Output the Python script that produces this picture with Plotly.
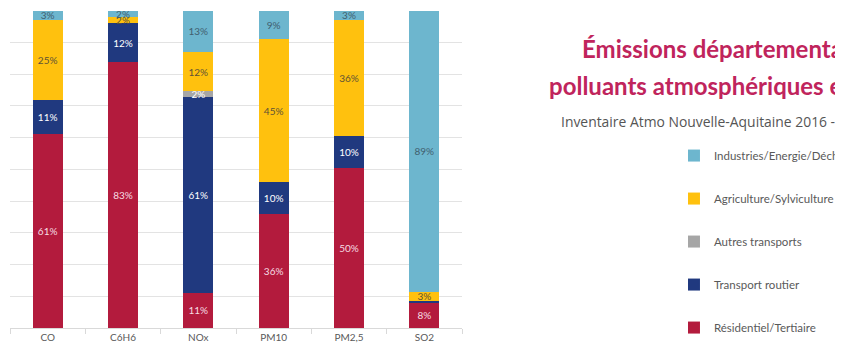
import plotly.graph_objects as go

categories = ["CO", "C6H6", "NOx", "PM10", "PM2,5", "SO2"]

# Shares (%) by sector
residentiel = [61, 83, 11, 36, 50, 8]
transport_routier = [11, 12, 61, 10, 10, 0.5]
autres_transports = [0, 0, 2, 0, 0, 0]
agriculture = [25, 2, 12, 45, 36, 3]
industries = [3, 2, 13, 9, 3, 89]

lbl_residentiel = ["61%", "83%", "11%", "36%", "50%", "8%"]
lbl_transport_routier = ["11%", "12%", "61%", "10%", "10%", ""]
lbl_autres_transports = ["", "", "2%", "", "", ""]
lbl_agriculture = ["25%", "2%", "12%", "45%", "36%", "3%"]
lbl_industries = ["3%", "2%", "13%", "9%", "3%", "89%"]

series = [
    ("Résidentiel/Tertiaire", residentiel, lbl_residentiel, "#B31B3D", "#F6DDE3", 5),
    ("Transport routier", transport_routier, lbl_transport_routier, "#20397F", "#FFFFFF", 4),
    ("Autres transports", autres_transports, lbl_autres_transports, "#A6A6A6", "#FFFFFF", 3),
    ("Agriculture/Sylviculture", agriculture, lbl_agriculture, "#FFC10E", "#5E5236", 2),
    ("Industries/Energie/Déchets", industries, lbl_industries, "#6DB6CE", "#41606E", 1),
]

fig = go.Figure()
for name, vals, lbls, col, tcol, rank in series:
    fig.add_trace(go.Bar(
        x=categories, y=vals, name=name, text=lbls,
        marker=dict(color=col, line=dict(width=0)),
        textposition="inside", insidetextanchor="middle", textangle=0,
        textfont=dict(color=tcol, size=10, family="Lato"),
        legendgroup=name, legendrank=rank,
    ))

fig.update_layout(
    width=843, height=352,
    barmode="stack", barnorm="percent", bargap=0.6,
    plot_bgcolor="white", paper_bgcolor="white",
    margin=dict(l=2, r=389, t=2, b=32),
    uniformtext=dict(minsize=10, mode="show"),
    font=dict(family="Lato", color="#595959"),
    legend=dict(
        xref="container", yref="container",
        x=0.79, y=0.622, xanchor="left", yanchor="top",
        traceorder="grouped", tracegroupgap=24, maxheight=340,
        font=dict(size=11.5, color="#595959", family="Lato"),
        bgcolor="rgba(0,0,0,0)",
    ),
    xaxis=dict(
        showline=True, linecolor="#D9D9D9", linewidth=1,
        ticks="outside", tickson="boundaries", ticklen=5, tickcolor="#D9D9D9",
        tickfont=dict(size=10, color="#595959", family="Lato"),
        showgrid=False,
    ),
    yaxis=dict(
        range=[0, 100.2], dtick=10, showticklabels=False,
        showgrid=True, gridcolor="#E3E3E3", gridwidth=1,
        zeroline=False, showline=False,
    ),
    annotations=[
        dict(text="<b>Émissions départementales de</b>", xref="paper", yref="paper",
             x=1.261, y=0.880, xanchor="left", yanchor="middle", showarrow=False,
             font=dict(size=24, color="#C0245C", family="Lato")),
        dict(text="<b>polluants atmosphériques en Gironde</b>", xref="paper", yref="paper",
             x=1.188, y=0.764, xanchor="left", yanchor="middle", showarrow=False,
             font=dict(size=24, color="#C0245C", family="Lato")),
        dict(text="Inventaire Atmo Nouvelle-Aquitaine 2016 - version 2018", xref="paper", yref="paper",
             x=1.2146, y=0.648, xanchor="left", yanchor="middle", showarrow=False,
             font=dict(size=13.9, color="#555555", family="Open Sans")),
    ],
)

fig.write_html("out.html")
